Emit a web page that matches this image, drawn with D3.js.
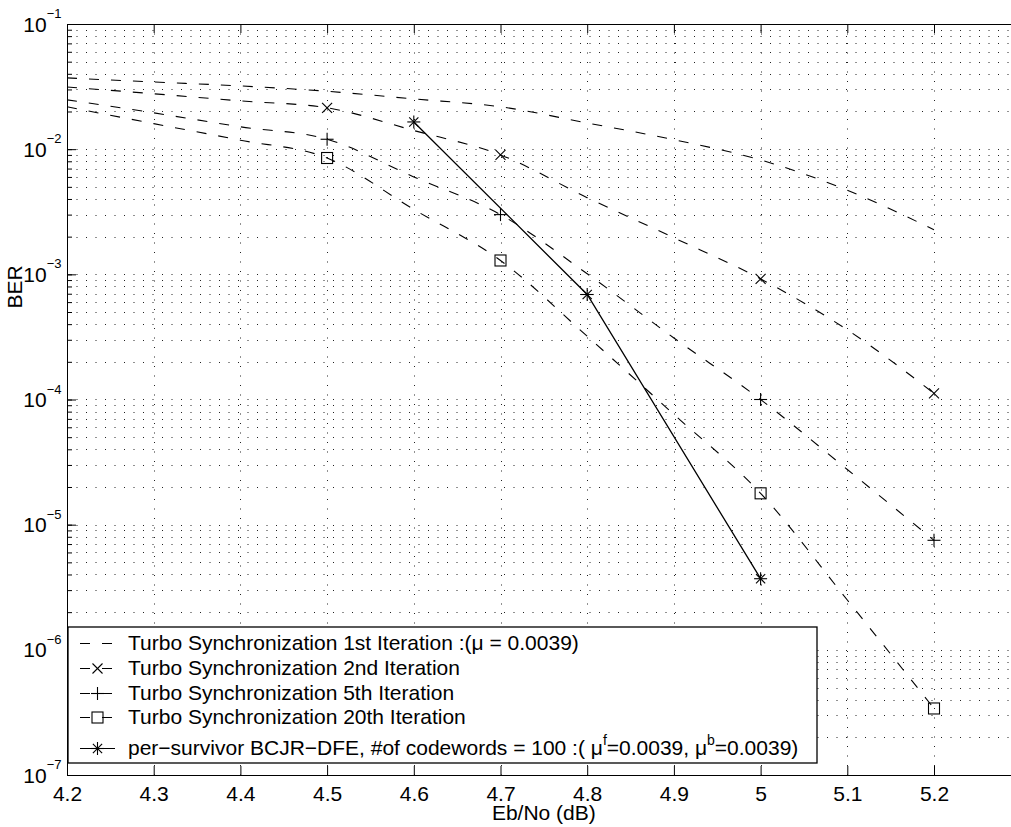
<!DOCTYPE html>
<html>
<head>
<meta charset="utf-8">
<script src="https://cdn.jsdelivr.net/npm/d3@7"></script>
<style>
  body { margin: 0; background: #fff; }
  svg text { font-family: "Liberation Sans", Arial, Helvetica, sans-serif; fill: #000; }
</style>
</head>
<body>
<svg id="chart" width="1011" height="827"></svg>
<script>
// Eb/No points (dB)
var ebno = [4.2, 4.3, 4.4, 4.5, 4.6, 4.7, 4.8, 4.9, 5.0, 5.1, 5.2];
// BER of the turbo synchronization curves at those points
var berIter1 = [0.0371, 0.0344, 0.0320, 0.0290, 0.0252, 0.0218, 0.0162, 0.0119, 0.0082, 0.0047, 0.00227];
var berIter2 = [0.0314, 0.0277, 0.0243, 0.0214, 0.0141, 0.0090, 0.0041, 0.00196, 9.2e-4, 3.6e-4, 1.12e-4];
var berIter5 = [0.0248, 0.0195, 0.0151, 0.0120, 0.0060, 0.0030, 0.00101, 3.1e-4, 1.0e-4, 2.76e-5, 7.5e-6];
var berIter20 = [0.0218, 0.0160, 0.0118, 0.0085, 0.0033, 0.00129, 3.2e-4, 7.6e-5, 1.78e-5, 2.5e-6, 3.4e-7];
// where the markers sit on the dashed curves
var markerEbNo = [4.5, 4.7, 5.0, 5.2];
// per-survivor BCJR-DFE
var psEbNo = [4.6, 4.8, 5.0];
var berPerSurvivor = [0.0165, 6.9e-4, 3.7e-6];

var xTicks = [4.2, 4.3, 4.4, 4.5, 4.6, 4.7, 4.8, 4.9, 5.0, 5.1, 5.2];
var yTicks = [1e-7, 1e-6, 1e-5, 1e-4, 1e-3, 1e-2, 1e-1];
var legendLabels = [
  "Turbo Synchronization 1st Iteration :(\u03bc = 0.0039)",
  "Turbo Synchronization 2nd Iteration",
  "Turbo Synchronization 5th Iteration",
  "Turbo Synchronization 20th Iteration",
  "per\u2212survivor BCJR\u2212DFE, #of codewords = 100 :( \u03bc^f=0.0039, \u03bc^b=0.0039)"
];

var svg = d3.select("#chart");
var padL = 67, padT = 24, padB = 775;

var x = d3.scaleLinear().domain([4.2, 5.3]).range([padL, 1020.7]);
var y = d3.scaleLog().domain([1e-7, 1e-1]).range([padB, padT]);

// grid (dotted, matlab style)
var grid = svg.append("g").attr("stroke", "#222").attr("stroke-width", 1).attr("stroke-dasharray", "1,8.5");
grid.selectAll(".hg").data(y.ticks()).join("line")
  .attr("x1", padL).attr("x2", 1011)
  .attr("y1", function (d) { return Math.round(y(d)) + 0.5; })
  .attr("y2", function (d) { return Math.round(y(d)) + 0.5; });
grid.selectAll(".vg").data(xTicks.slice(1)).join("line")
  .attr("x1", function (d) { return Math.round(x(d)) + 0.5; })
  .attr("x2", function (d) { return Math.round(x(d)) + 0.5; })
  .attr("y1", padT).attr("y2", padB);

// curves
var smooth = d3.line()
  .x(function (d) { return x(d[0]); })
  .y(function (d) { return y(d[1]); })
  .curve(d3.curveMonotoneX);
var straight = d3.line()
  .x(function (d) { return x(d[0]); })
  .y(function (d) { return y(d[1]); });

var series = [
  { vals: berIter1, marker: null },
  { vals: berIter2, marker: "x" },
  { vals: berIter5, marker: "+" },
  { vals: berIter20, marker: "s" }
];

function drawMarker(g, type, cx, cy) {
  var m = g.append("g").attr("transform", "translate(" + cx + "," + cy + ")")
    .attr("stroke", "#000").attr("stroke-width", 1.1).attr("fill", "none");
  if (type == "x" || type == "*") {
    var a = type == "x" ? 5 : 4.6;
    m.append("line").attr("x1", -a).attr("y1", -a).attr("x2", a).attr("y2", a);
    m.append("line").attr("x1", -a).attr("y1", a).attr("x2", a).attr("y2", -a);
  }
  if (type == "+" || type == "*") {
    var b = 6.5;
    m.append("line").attr("x1", -b).attr("y1", 0).attr("x2", b).attr("y2", 0);
    m.append("line").attr("x1", 0).attr("y1", -b).attr("x2", 0).attr("y2", b);
  }
  if (type == "s") {
    m.append("rect").attr("x", -5.5).attr("y", -5.5).attr("width", 11).attr("height", 11);
  }
}

var plot = svg.append("g");
series.forEach(function (s) {
  var pts = ebno.map(function (e, i) { return [e, s.vals[i]]; });
  plot.append("path")
    .datum(pts)
    .attr("d", smooth)
    .attr("fill", "none")
    .attr("stroke", "#000")
    .attr("stroke-width", 1.1)
    .attr("stroke-dasharray", "10,12");
  if (s.marker) {
    markerEbNo.forEach(function (e) {
      var v = s.vals[ebno.indexOf(e)];
      drawMarker(plot, s.marker, x(e), y(v));
    });
  }
});

var psPts = psEbNo.map(function (e, i) { return [e, berPerSurvivor[i]]; });
plot.append("path")
  .datum(psPts)
  .attr("d", straight)
  .attr("fill", "none")
  .attr("stroke", "#000")
  .attr("stroke-width", 1.3);
psPts.forEach(function (p) { drawMarker(plot, "*", x(p[0]), y(p[1])); });

// axes
var fmtX = function (d) { return String(+d.toFixed(1)); };

var xAxis = svg.append("g")
  .attr("transform", "translate(0," + padB + ")")
  .call(d3.axisBottom(x).tickValues(xTicks).tickSizeInner(-9).tickSizeOuter(0).tickPadding(11).tickFormat(fmtX));
xAxis.selectAll("text").attr("font-size", 21).attr("fill", "#000");

svg.append("g")
  .attr("transform", "translate(0," + padT + ")")
  .call(d3.axisTop(x).tickValues(xTicks).tickSizeInner(-9).tickSizeOuter(0).tickFormat(""));

svg.append("g")
  .attr("transform", "translate(" + padL + ",0)")
  .call(d3.axisLeft(y).tickValues(y.ticks()).tickSizeInner(-5).tickSizeOuter(0).tickFormat(""));

svg.append("g")
  .attr("transform", "translate(" + padL + ",0)")
  .call(d3.axisLeft(y).tickValues(yTicks).tickSizeInner(-9).tickSizeOuter(0).tickFormat(""));

svg.selectAll(".domain, .tick line").attr("stroke", "#000").attr("stroke-width", 1);

// y tick labels 10^k
yTicks.forEach(function (t) {
  var k = Math.round(Math.log10(t));
  var lab = svg.append("text")
    .attr("x", 61.5)
    .attr("y", y(t) + 7.5)
    .attr("text-anchor", "end")
    .attr("font-size", 21);
  lab.append("tspan").text("10");
  lab.append("tspan").attr("dy", -13.5).attr("font-size", 13).text("\u2212" + Math.abs(k));
});

// axis labels
svg.append("text")
  .attr("x", (padL + 1020.7) / 2)
  .attr("y", 820)
  .attr("text-anchor", "middle")
  .attr("font-size", 21)
  .text("Eb/No (dB)");

svg.append("text")
  .attr("transform", "translate(22,287)rotate(-90)")
  .attr("text-anchor", "middle")
  .attr("font-size", 21)
  .text("BER");

// legend
var lg = svg.append("g");
lg.append("rect")
  .attr("x", 68).attr("y", 627)
  .attr("width", 749).attr("height", 136)
  .attr("fill", "#fff")
  .attr("stroke", "#000")
  .attr("stroke-width", 1.3);

var rowBase = [650, 675, 700, 724, 755];
var legendMarkers = [null, "x", "+", "s", "*"];
legendLabels.forEach(function (lab, i) {
  var cy = rowBase[i] - 6.5;
  lg.append("line")
    .attr("x1", 80).attr("x2", 115)
    .attr("y1", cy).attr("y2", cy)
    .attr("stroke", "#000")
    .attr("stroke-width", 1.1)
    .attr("stroke-dasharray", i < 4 ? "10,12" : null);
  if (legendMarkers[i]) drawMarker(lg, legendMarkers[i], 97.5, cy);

  var t = lg.append("text").attr("x", 128).attr("y", rowBase[i]).attr("font-size", 21);
  var parts = lab.split(/\^(.)/);
  parts.forEach(function (p, j) {
    if (j % 2 == 1) {
      t.append("tspan").attr("dy", -10).attr("font-size", 14).text(p);
    } else if (p) {
      t.append("tspan").attr("dy", j > 0 ? 10 : 0).text(p);
    }
  });
});
</script>
</body>
</html>
